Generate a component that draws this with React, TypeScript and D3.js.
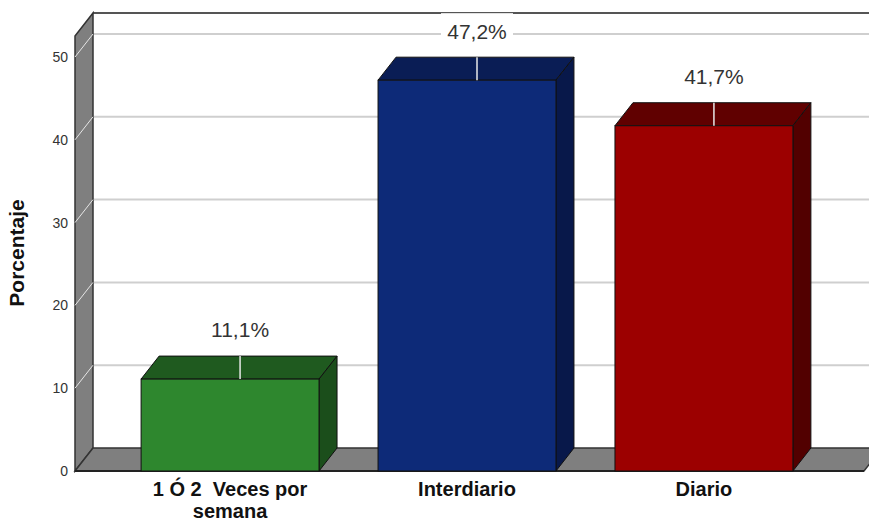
import React from "react";
import * as d3 from "d3";

const categories = ["1 Ó 2  Veces por\nsemana", "Interdiario", "Diario"];
const values = [11.1, 47.2, 41.7];
const valueLabels = ["11,1%", "47,2%", "41,7%"];
const yTicks = [0, 10, 20, 30, 40, 50];
const frontColors = ["#2e872e", "#0d2a78", "#9c0000"];
const topColors = ["#1f5a1f", "#0a1d55", "#600000"];
const sideColors = ["#1b4e1b", "#08184a", "#520000"];

const W = 869;
const H = 522;
const DX = 18;
const DY = -23;

export default function App() {
  const x = d3
    .scaleBand<string>()
    .domain(categories)
    .range([75, 859])
    .paddingInner(0.249)
    .paddingOuter(0.279);
  const y = d3.scaleLinear().domain([0, 50]).range([471, 57]);
  const y0 = y(0);
  const xL = 75;
  const xR = 864;
  const topBack = 13;

  const pts = (arr: number[][]) => arr.map((p) => p.join(",")).join(" ");

  return (
    <svg
      width={W}
      height={H}
      style={{ position: "absolute", left: 0, top: 0, background: "#fff" }}
      fontFamily="Liberation Sans, Arial, sans-serif"
    >
      {/* back wall top border */}
      <line x1={xL + DX} x2={W} y1={topBack} y2={topBack} stroke="#555" strokeWidth={2} />
      {/* gridlines on back wall */}
      {yTicks.slice(1).map((t) => (
        <line key={t} x1={xL + DX} x2={W} y1={y(t) + DY} y2={y(t) + DY} stroke="#cfcfcf" strokeWidth={2} />
      ))}
      {/* left wall */}
      <polygon
        points={pts([
          [xL, topBack - DY],
          [xL + DX, topBack],
          [xL + DX, y0 + DY],
          [xL, y0],
        ])}
        fill="#7f7f7f"
        stroke="#333"
        strokeWidth={1.5}
      />
      {/* tick guide lines on wall */}
      {yTicks.slice(1).map((t) => (
        <line key={t} x1={xL} x2={xL + DX} y1={y(t)} y2={y(t) + DY} stroke="#e6e6e6" strokeWidth={1} />
      ))}
      {/* floor */}
      <polygon
        points={pts([
          [xL, y0],
          [xR, y0],
          [xR + DX, y0 + DY],
          [xL + DX, y0 + DY],
        ])}
        fill="#7f7f7f"
        stroke="#333"
        strokeWidth={1.5}
      />
      <line x1={xL} x2={xR} y1={y0} y2={y0} stroke="#222" strokeWidth={2} />
      {/* y tick labels */}
      {yTicks.map((t) => (
        <text key={t} x={68} y={y(t)} dy="0.35em" textAnchor="end" fontSize={14} fill="#333">
          {t}
        </text>
      ))}
      <text
        transform={`translate(24,${253}) rotate(-90)`}
        textAnchor="middle"
        fontSize={21}
        fontWeight="bold"
        fill="#111"
      >
        Porcentaje
      </text>
      {/* bars */}
      {categories.map((c, i) => {
        const bx = x(c)!;
        const bw = x.bandwidth();
        const by = y(values[i]);
        const cx = bx + bw / 2 + DX / 2 + 1;
        return (
          <g key={c}>
            <polygon
              points={pts([
                [bx, by],
                [bx + DX, by + DY],
                [bx + bw + DX, by + DY],
                [bx + bw, by],
              ])}
              fill={topColors[i]}
              stroke="#111"
              strokeWidth={1}
            />
            <polygon
              points={pts([
                [bx + bw, by],
                [bx + bw + DX, by + DY],
                [bx + bw + DX, y0 + DY],
                [bx + bw, y0],
              ])}
              fill={sideColors[i]}
              stroke="#111"
              strokeWidth={1}
            />
            <rect x={bx} y={by} width={bw} height={y0 - by} fill={frontColors[i]} stroke="#111" strokeWidth={1} />
            <line x1={cx} x2={cx} y1={by} y2={by + DY} stroke="#e8e8e8" strokeWidth={1.5} />
            <rect x={cx - 36} y={by + DY - 44} width={72} height={34} fill="#fff" />
            <text x={cx} y={by + DY - 26} dy="0.35em" textAnchor="middle" fontSize={21} fill="#333">
              {valueLabels[i]}
            </text>
            {c.split("\n").map((line, j) => (
              <text
                key={j}
                x={bx + bw / 2}
                y={489 + j * 22}
                dy="0.35em"
                textAnchor="middle"
                fontSize={20}
                fontWeight="bold"
                fill="#111"
                style={{ whiteSpace: "pre" }}
              >
                {line}
              </text>
            ))}
          </g>
        );
      })}
    </svg>
  );
}
